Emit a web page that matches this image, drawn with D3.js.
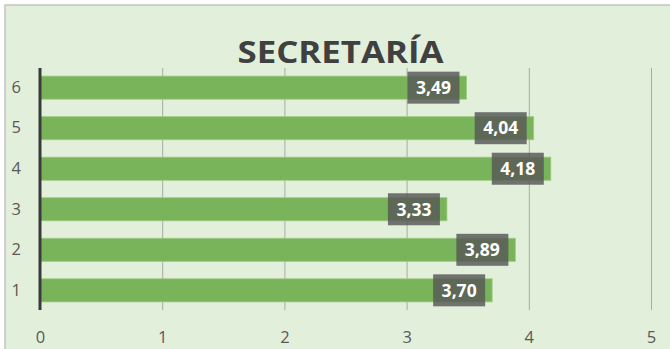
<!DOCTYPE html>
<html>
<head>
<meta charset="utf-8">
<script src="https://cdn.jsdelivr.net/npm/d3@7"></script>
<style>
  html, body { margin: 0; padding: 0; background: #ffffff; }
  svg { display: block; }
</style>
</head>
<body>
<script>
// Scores per group, drawn as horizontal bars
const categories = ["1", "2", "3", "4", "5", "6"];
const values = [3.70, 3.89, 3.33, 4.18, 4.04, 3.49];
const valueLabels = ["3,70", "3,89", "3,33", "4,18", "4,04", "3,49"];
const xTicks = [0, 1, 2, 3, 4, 5];
const title = "SECRETARÍA";

const W = 670, H = 349;
const plot = { left: 40, right: 651, top: 68, bottom: 310 };

const svg = d3.select("body").append("svg")
  .attr("width", W).attr("height", H);

// chart area
svg.append("rect")
  .attr("x", 5).attr("y", 5).attr("width", W + 10).attr("height", H + 10)
  .attr("fill", "#e2efda").attr("stroke", "#c4c4c4").attr("stroke-width", 1.5);

const x = d3.scaleLinear().domain([0, 5]).range([plot.left, plot.right]);
const y = d3.scaleBand().domain(categories.slice().reverse())
  .range([plot.top, plot.bottom]).paddingInner(0.43).paddingOuter(0.2);

// vertical gridlines
const grid = d3.axisBottom(x).tickValues(xTicks.filter(d => d > 0))
  .tickSize(-(plot.bottom - plot.top)).tickFormat("");
svg.append("g").attr("transform", `translate(0,${plot.bottom})`).call(grid)
  .call(g => g.select(".domain").remove())
  .call(g => g.selectAll(".tick line").attr("stroke", "#a8aca6").attr("stroke-width", 1));

// x tick labels
const xAxis = d3.axisBottom(x).tickValues(xTicks).tickSize(0).tickPadding(21)
  .tickFormat(d3.format("d"));
svg.append("g").attr("transform", `translate(0,${plot.bottom})`).call(xAxis)
  .call(g => g.select(".domain").remove())
  .call(g => g.selectAll("text").attr("fill", "#595959")
    .attr("font-family", "Open Sans, sans-serif").attr("font-size", 16.5));

// bars
const data = categories.map((c, i) => ({ c, v: values[i], label: valueLabels[i] }));
svg.append("g").selectAll("rect").data(data).join("rect")
  .attr("x", x(0)).attr("y", d => y(d.c))
  .attr("width", d => x(d.v) - x(0)).attr("height", y.bandwidth())
  .attr("fill", "#7ab45a").attr("stroke", "#9fcb84").attr("stroke-width", 0.8);

// y axis
const yAxis = d3.axisLeft(y).tickSize(0).tickPadding(19);
svg.append("g").attr("transform", `translate(${plot.left},0)`).call(yAxis)
  .call(g => g.select(".domain").remove())
  .call(g => g.selectAll("text").attr("fill", "#595959")
    .attr("font-family", "Open Sans, sans-serif").attr("font-size", 16.5));
svg.append("line")
  .attr("x1", plot.left).attr("x2", plot.left).attr("y1", plot.top).attr("y2", plot.bottom)
  .attr("stroke", "#3a3a3a").attr("stroke-width", 3);

// value labels in dark boxes at the inner end of each bar
const boxW = 52, boxH = 32;
const lab = svg.append("g").selectAll("g").data(data).join("g")
  .attr("transform", d => `translate(${x(d.v) - 7 - boxW},${y(d.c) + y.bandwidth() / 2 - boxH / 2})`);
lab.append("rect").attr("width", boxW).attr("height", boxH)
  .attr("fill", "#575757").attr("fill-opacity", 0.82);
lab.append("text").attr("x", boxW / 2).attr("y", boxH / 2).attr("dy", "0.36em")
  .attr("text-anchor", "middle").attr("fill", "#ffffff")
  .attr("font-family", "Open Sans, sans-serif").attr("font-weight", "bold")
  .attr("font-size", 17.5).text(d => d.label);

// title
svg.append("text").attr("x", 340.5).attr("y", 62.5)
  .attr("text-anchor", "middle").attr("fill", "#404040")
  .attr("font-family", "Open Sans, sans-serif").attr("font-weight", "bold")
  .attr("font-size", 30.5).attr("textLength", 206).attr("lengthAdjust", "spacingAndGlyphs")
  .text(title);
</script>
</body>
</html>
